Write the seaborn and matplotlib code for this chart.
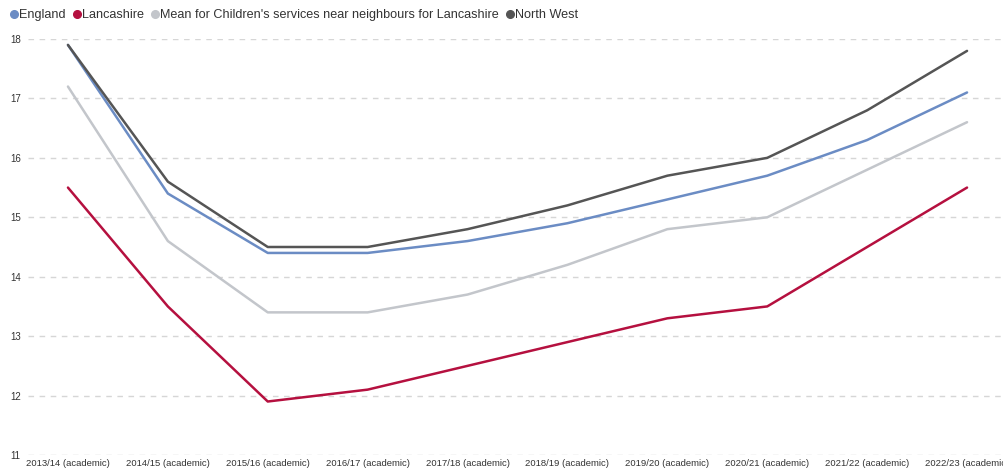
import matplotlib
matplotlib.use("Agg")
import matplotlib.pyplot as plt
from matplotlib.lines import Line2D
import seaborn as sns
import pandas as pd

years = ["2013/14 (academic)", "2014/15 (academic)", "2015/16 (academic)",
         "2016/17 (academic)", "2017/18 (academic)", "2018/19 (academic)",
         "2019/20 (academic)", "2020/21 (academic)", "2021/22 (academic)",
         "2022/23 (academic)"]

england = [17.9, 15.4, 14.4, 14.4, 14.6, 14.9, 15.3, 15.7, 16.3, 17.1]
lancashire = [15.5, 13.5, 11.9, 12.1, 12.5, 12.9, 13.3, 13.5, 14.5, 15.5]
neighbours_mean = [17.2, 14.6, 13.4, 13.4, 13.7, 14.2, 14.8, 15.0, 15.8, 16.6]
north_west = [17.9, 15.6, 14.5, 14.5, 14.8, 15.2, 15.7, 16.0, 16.8, 17.8]

series_names = ["England", "Lancashire",
                "Mean for Children's services near neighbours for Lancashire",
                "North West"]
series_values = [england, lancashire, neighbours_mean, north_west]
colors = ["#6b8cc4", "#b5103f", "#c3c6cb", "#555555"]

rows = []
for name, vals in zip(series_names, series_values):
    for i, v in enumerate(vals):
        rows.append({"idx": i, "value": v, "series": name})
df = pd.DataFrame(rows)

sns.set_theme(style="white")
plt.rcParams["font.family"] = ["Liberation Sans", "DejaVu Sans"]

fig = plt.figure(figsize=(10.04, 4.68), dpi=100)
ax = fig.add_axes([28 / 1004, 1 - 455 / 468, 1 - 28 / 1004, (455 - 39) / 468])

sns.lineplot(data=df, x="idx", y="value", hue="series",
             palette=dict(zip(series_names, colors)),
             hue_order=series_names, linewidth=1.8, ax=ax,
             legend=False, clip_on=False)

ax.set_xlim(-0.4, 9.37)
ax.set_ylim(11, 18)
ax.set_yticks(range(11, 19))
ax.set_yticklabels([str(v) for v in range(11, 19)], fontsize=7, color="#333333")
ax.set_xticks(range(len(years)))
ax.set_xticklabels(years, fontsize=6.8, color="#333333")
ax.tick_params(axis="x", length=0, pad=3)
ax.tick_params(axis="y", length=0, pad=8)
ax.set_xlabel("")
ax.set_ylabel("")
ax.grid(axis="y", color="#d6d6d6", linestyle=(0, (4, 4)), linewidth=1)
ax.grid(axis="x", visible=False)
for s in ax.spines.values():
    s.set_visible(False)
for lbl in ax.get_yticklabels():
    lbl.set_horizontalalignment("left")
    lbl.set_x(-28 / 976 + 10 / 976)
ax.yaxis.set_tick_params(pad=0)

handles = [Line2D([0], [0], marker="o", linestyle="", markersize=5.5,
                  markerfacecolor=c, markeredgecolor=c) for c in colors]
fig.legend(handles, series_names, loc="upper left", bbox_to_anchor=(0.006, 1 - 9 / 468),
           ncol=4, frameon=False, fontsize=9.1, handletextpad=-0.2,
           columnspacing=0.3, borderaxespad=0, borderpad=0, handlelength=1.2,
           labelcolor="#333333")

fig.savefig("out.png", dpi=100)
